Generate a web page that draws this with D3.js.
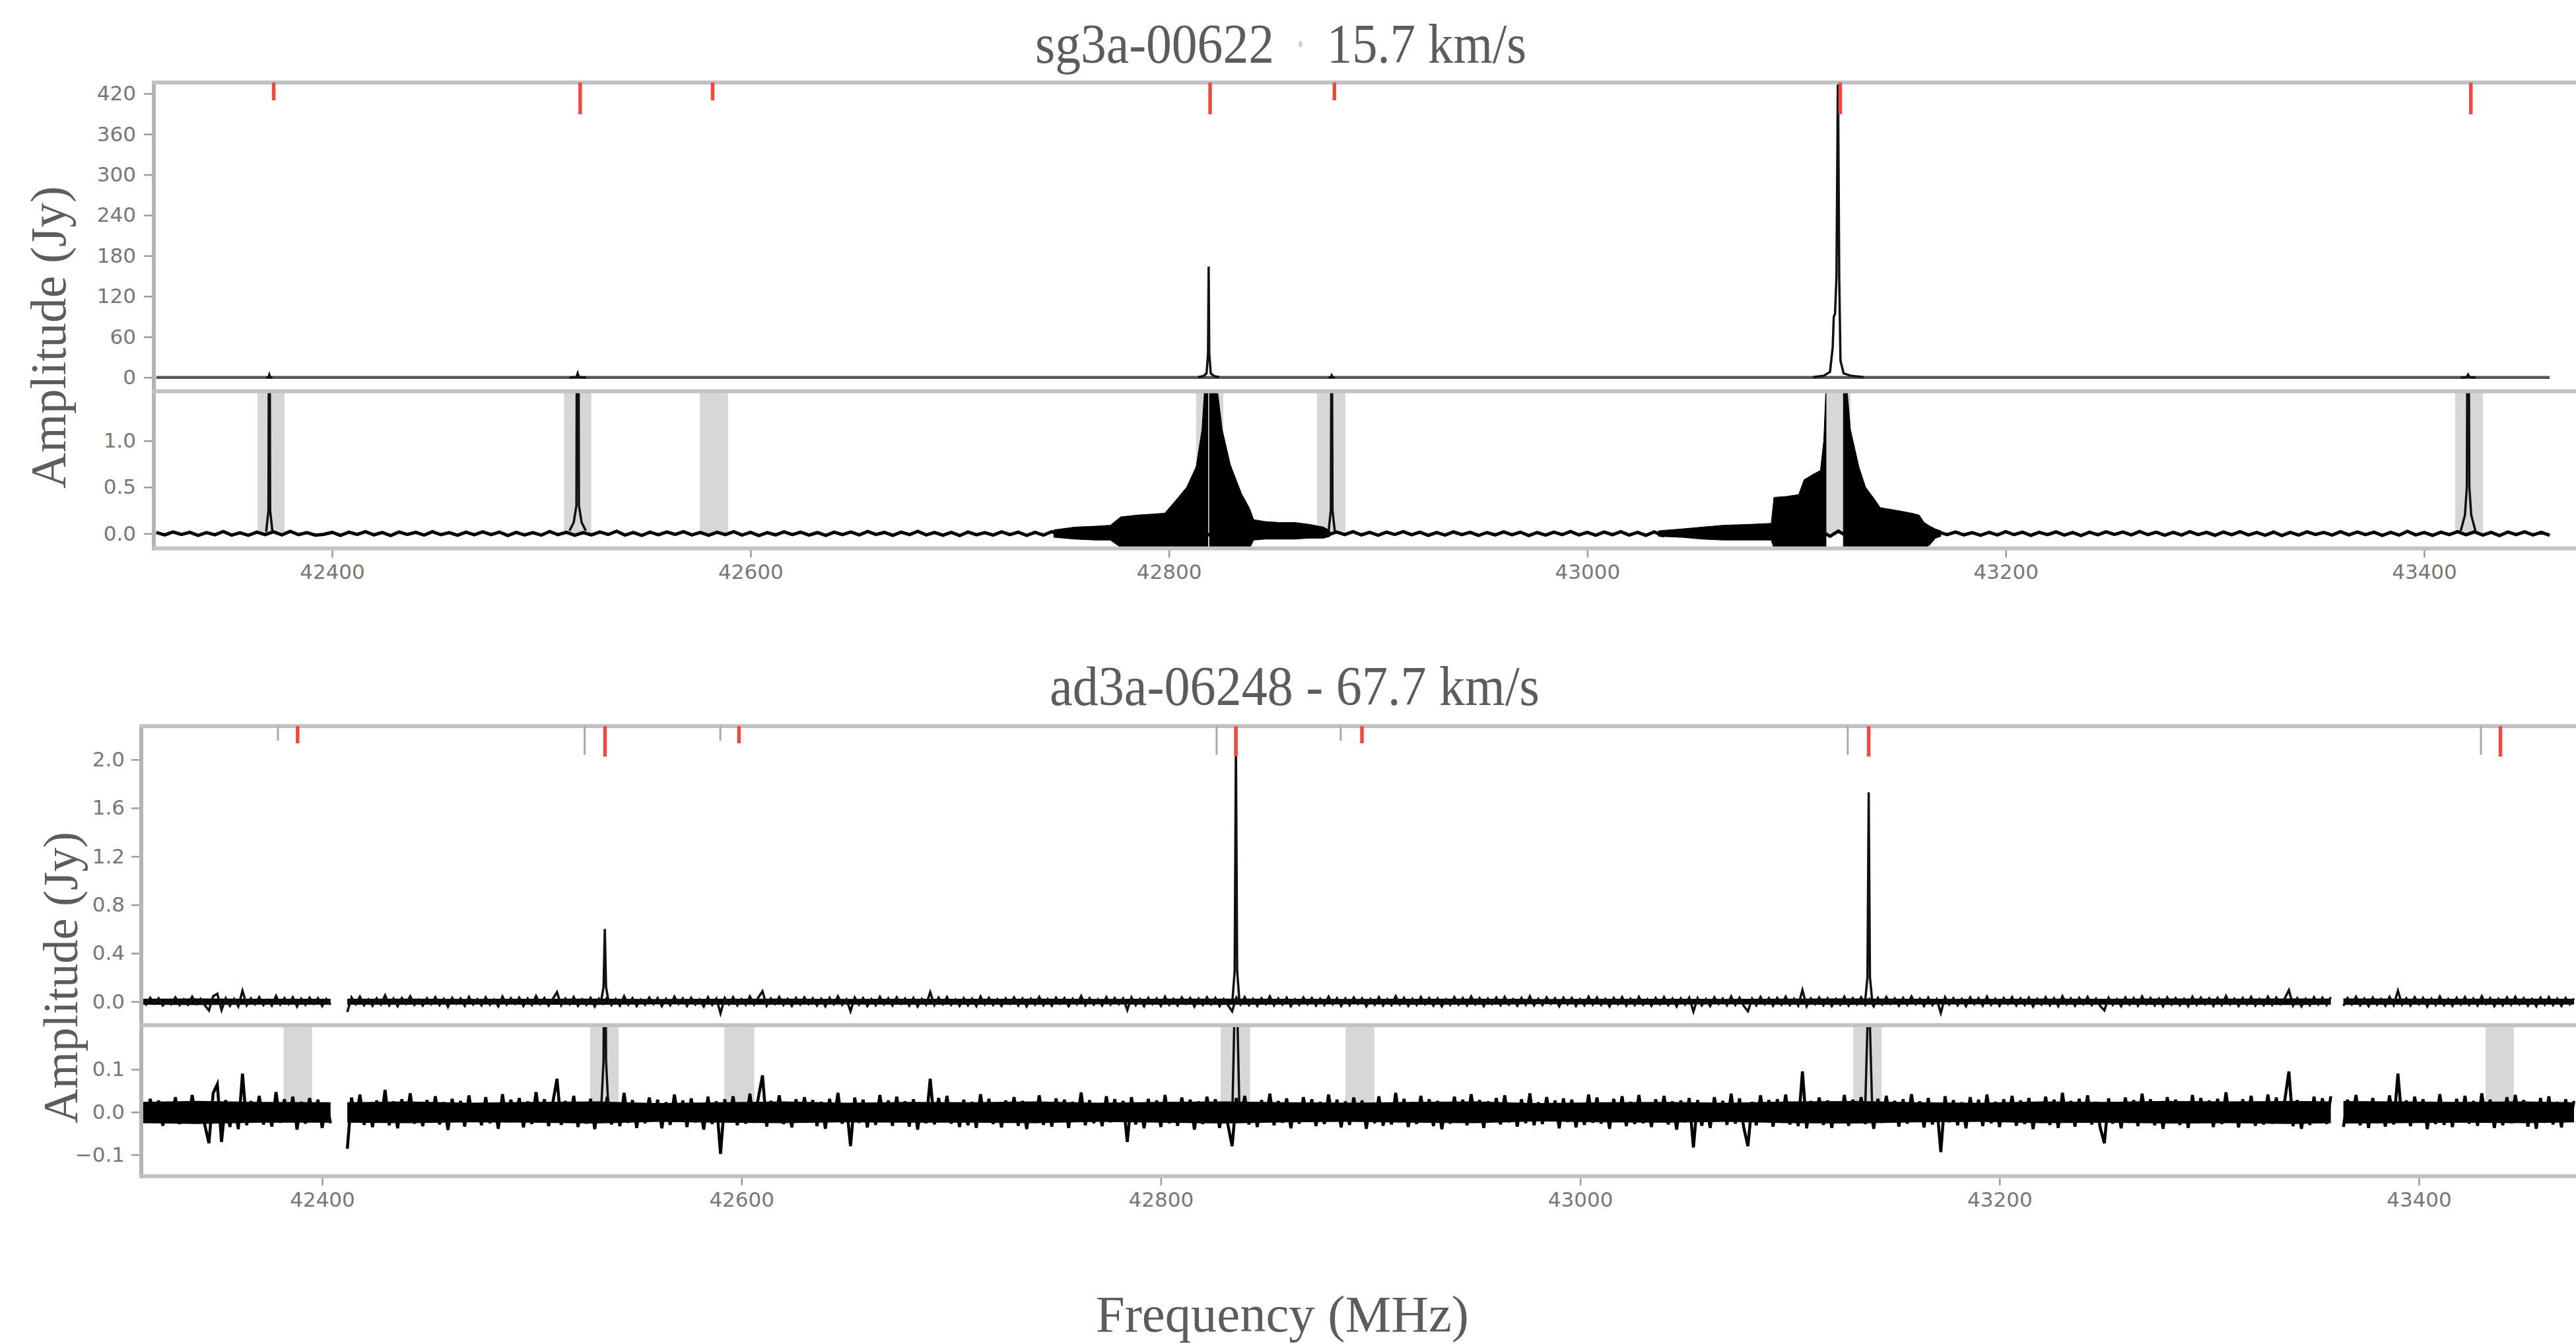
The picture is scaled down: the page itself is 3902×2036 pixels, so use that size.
<!DOCTYPE html>
<html>
<head>
<meta charset="utf-8">
<script src="https://cdn.jsdelivr.net/npm/d3@7"></script>
<style>
  html, body { margin: 0; padding: 0; background: #fff; }
  svg { display: block; }
  .tick text { font-family: "DejaVu Sans", sans-serif; font-size: 31px; fill: #777; }
  .tick line { stroke: #9a9a9a; stroke-width: 2.5; }
  .ttl { font-family: "Liberation Serif", "Times New Roman", serif; fill: #5c5c5c; }
</style>
</head>
<body>
<svg id="chart"></svg>
<script>
// ── Shared ticks ─────────────────────────────────────────────────────────────
const xTicks     = [42400, 42600, 42800, 43000, 43200, 43400];
const sgUpTicks  = [0, 60, 120, 180, 240, 300, 360, 420];
const sgLoTicks  = [0, 0.5, 1.0];
const adUpTicks  = [0, 0.4, 0.8, 1.2, 1.6, 2.0];
const adLoTicks  = [-0.1, 0, 0.1];
const mainLine   = [false, true, false, true, false, true, true];   // long markers

// ── sg3a-00622 (15.7 km/s) ───────────────────────────────────────────────────
// channel grid (MHz) and baseline amplitudes in mJy
const sgStart = 42316, sgStep = 4;
const sgNoise = [
  12,-15,18,-9,14,-20,11,-13,22,-16,9,-18,15,-11,19,-14,24,-12,10,-17,
  -8,13,-19,16,-10,21,-14,12,-22,17,-9,14,-16,20,-12,11,-18,15,-13,19,
  -11,16,-21,13,-15,10,-17,22,-12,14,-19,11,-14,18,-10,25,-16,12,-20,15,
  -13,17,-9,21,-15,12,-18,14,-11,20,-16,13,-22,10,-14,19,-12,16,-17,11,
  -20,15,-12,18,-14,22,-10,13,-19,16,-11,24,-15,12,-18,14,-21,17,-13,10,
  -16,19,-12,15,-20,13,-17,21,-14,11,-18,16,-22,14,-19,25,-21,18,-24,20,
  -23,17,-20,22,-18,16,-21,19,-17,23,-20,18,-22,15,-19,21,-16,14,-18,12,
  -15,17,-11,20,-14,13,-18,16,-10,21,-13,15,-19,12,-16,18,-12,14,-20,11,
  -14,19,-13,16,-21,12,-17,15,-11,22,-15,13,-18,17,-12,20,-16,14,-19,18,
  -22,20,-25,23,-27,24,-26,28,-30,25,-28,27,-30,29,-31,26,-28,30,-27,24,
  -29,26,-25,27,-24,22,-21,19,-18,20,-16,14,-19,15,-12,17,-14,11,-18,13,
  -15,20,-12,16,-19,14,-11,18,-16,12,-21,15,-13,19,-10,17,-14,22,-12,15,
  -18,13,-16,20,-11,14,-19,17,-13,21,-15,12,-18,16,-22,14,-17,19,-9,13,
  -16,21,-14,18,-12,15,-20,13,-17,24,-15,12,-19,16,-11,20,-13,18,-16,14,
  -21,17,-12,19,-15,13,-18
];
// broad ringing wings (Jy): upper / lower envelope, null = masked peak channel
const sgWing1F  = [42745, 42755, 42765, 42772, 42777, 42785, 42792, 42798, 42803, 42808.5, 42813, 42815.8, 42817, 42818.6, 42819, 42819.4, 42821, 42822.9, 42825.5, 42829.4, 42834.7, 42838.6, 42840.5, 42846, 42853, 42860, 42867, 42874, 42877];
const sgWing1Hi = [0.04, 0.07, 0.08, 0.09, 0.18, 0.2, 0.21, 0.22, 0.35, 0.5, 0.72, 1.12, 1.55, 1.7, null, 1.7, 1.7, 1.6, 1.12, 0.74, 0.43, 0.27, 0.15, 0.13, 0.12, 0.12, 0.1, 0.07, 0.03];
const sgWing1Lo = [-0.04, -0.06, -0.07, -0.07, -0.15, -0.16, -0.16, -0.16, -0.16, -0.16, -0.16, -0.16, -0.16, -0.16, null, -0.16, -0.16, -0.16, -0.16, -0.16, -0.16, -0.16, -0.07, -0.06, -0.06, -0.06, -0.05, -0.05, -0.03];
const sgWing2F  = [43034, 43045, 43055, 43065, 43078, 43087.9, 43089.2, 43095, 43101, 43103.6, 43108, 43111.4, 43113, 43114.1, 43118, 43122.4, 43124, 43125.8, 43129.8, 43133, 43137.6, 43140, 43148, 43155, 43158.6, 43161, 43163.8, 43166.4, 43169];
const sgWing2Hi = [0.03, 0.05, 0.07, 0.09, 0.1, 0.11, 0.39, 0.4, 0.42, 0.58, 0.64, 0.68, 1.0, 1.6, null, 1.6, 1.6, 1.12, 0.72, 0.5, 0.36, 0.28, 0.25, 0.22, 0.2, 0.12, 0.08, 0.05, 0.03];
const sgWing2Lo = [-0.03, -0.04, -0.06, -0.07, -0.07, -0.07, -0.16, -0.16, -0.16, -0.16, -0.16, -0.16, -0.16, -0.16, null, -0.16, -0.16, -0.16, -0.16, -0.16, -0.16, -0.16, -0.16, -0.16, -0.16, -0.16, -0.12, -0.05, -0.03];
// line profiles [MHz, Jy]
const sgPeaks = [
  [[42368.5, 0.02], [42369.6, 0.25], [42370, 4], [42370.4, 0.25], [42371.5, 0.02]],
  [[42513.5, 0.03], [42515.5, 0.12], [42516.8, 0.3], [42517.4, 6], [42518, 0.3], [42519.3, 0.12], [42521.3, 0.03]],
  [[42814, 0.5], [42816.5, 2], [42818, 6], [42818.7, 35], [42819, 164], [42819.3, 35], [42820, 6], [42821.5, 2], [42824, 0.5]],
  [[42876.3, 0.02], [42877.4, 0.25], [42877.8, 3], [42878.2, 0.25], [42879.3, 0.02]],
  [[43108, 0.5], [43113, 2.5], [43116, 8], [43117.3, 45], [43117.8, 90], [43118.4, 94], [43119.1, 150], [43119.8, 460], [43120.4, 150], [43121, 25], [43122.5, 6], [43126, 2.5], [43132, 0.5]],
  [[43417.5, 0.03], [43419.5, 0.2], [43420.4, 0.5], [43421, 4], [43421.6, 0.5], [43422.5, 0.2], [43424.5, 0.03]]
];
const sgPeakInLower = [true, true, false, true, false, true];
const sgBands = [[42364.3, 42377.3], [42510.8, 42523.9], [42575.8, 42589.3], [42813, 42826],
                 [42870.8, 42884.4], [43114.1, 43125.8], [43414.8, 43428.1]];
const sgLineF = [42372.1, 42518.6, 42581.9, 42819.7, 42879.1, 43120.9, 43422.3];

// ── ad3a-06248 (67.7 km/s) ───────────────────────────────────────────────────
// null = flagged channel
const adStart = 42314, adStep = 2;
const adNoise = [
  18,-24,31,-15,27,-32,12,-21,35,-28,19,-26,40,-19,23,-30,-73,44,65,-70,
  28,-35,22,-40,90,-31,26,-22,38,-29,15,-34,47,-25,30,-20,36,-41,24,-27,
  33,-18,29,-37,21,-26,null,null,null,-86,34,-22,41,-30,19,-35,27,-24,52,-31,
  25,-38,30,-19,44,-27,16,-33,28,-21,37,-29,23,-42,31,-17,26,-34,39,-23,
  20,-31,35,-26,18,-39,42,-24,29,-18,33,-36,25,-28,47,-21,30,-33,22,78,
  -30,26,-22,38,-35,19,-27,31,-40,24,-18,36,-29,21,-33,45,-25,28,-37,17,
  -26,34,-21,29,-38,23,-30,41,-19,27,-35,32,-24,18,-41,36,-28,25,-98,30,
  -22,37,-31,20,-27,43,-25,33,86,-34,26,-19,39,-28,22,-36,30,-24,35,-20,
  28,-33,24,-39,31,-22,45,-27,19,-80,34,-25,29,-36,21,-30,40,-23,27,-32,
  36,-19,25,-34,30,-41,22,-26,78,-29,33,-21,38,-27,18,-35,29,-31,24,-37,
  42,-23,31,-28,20,-36,27,-19,35,-32,26,-40,23,-25,39,-30,21,-34,32,-18,
  29,-37,24,-22,46,-31,28,-26,19,-33,37,-24,30,-21,26,-70,35,-29,22,-38,
  31,-20,27,-35,40,-26,23,-32,34,-19,29,-41,25,-28,36,-23,30,-37,21,-30,
  -80,33,-24,38,-29,22,-35,28,-20,43,-31,26,-25,32,-38,19,-27,35,-22,30,
  -33,24,-28,41,-21,29,-36,25,-30,34,-19,27,-39,22,-26,37,-32,20,-29,45,
  -24,31,-35,23,-28,38,-21,30,-33,26,-40,19,-27,36,-25,29,-31,42,-22,28,
  -37,25,-20,33,-29,39,-24,21,-34,30,-26,44,-31,23,-28,35,-19,27,-38,32,
  -23,29,-36,20,-30,41,-25,34,-27,22,-39,31,-21,37,-33,24,-28,40,-26,19,
  -35,30,-22,38,-29,25,-41,27,-24,33,-83,28,-32,21,-37,35,-20,26,-30,43,
  -27,32,-36,-80,24,-31,39,-22,28,-34,30,-25,41,-29,23,-33,95,-38,26,-21,
  34,-30,27,-37,22,-26,40,-32,29,-23,35,-28,21,-39,31,-25,38,-20,26,-34,
  30,-27,42,-22,25,-36,33,-29,20,-94,37,-24,28,-31,23,-38,35,-21,29,-33,
  41,-26,24,-35,30,-20,38,-32,27,-28,33,-40,22,-25,36,-30,29,-37,45,-23,
  26,-34,31,-21,39,-29,24,-36,-73,32,-27,20,-38,34,-25,28,-33,43,-22,30,
  -31,25,-39,35,-24,29,-30,22,-37,40,-26,33,-21,27,-35,31,-28,46,-23,24,
  -36,30,-25,38,-32,21,-29,41,-27,34,-20,26,95,-33,28,-39,23,-30,36,-24,
  32,-28,37,null,null,-35,29,-22,40,-31,25,-37,33,-26,21,-34,39,-29,90,-25,
  27,-33,36,-21,30,-40,24,-28,42,-30,22,-35,31,-24,38,-27,26,-32,44,-20,
  29,-37,23,-31,35,-26,40,-23,28,-34,21,-39,33,-25,37,-29,24,-36,30,-22,
  26
];
// dense noise core (Jy): envelope where the trace fills solid black
const adCoreF  = [42314, 42340, 42370, 42404, 42408, 42412, 42440, 42470, 42500, 42530, 42560, 42590, 42620, 42650, 42680, 42710, 42740, 42770, 42800, 42830, 42860, 42890, 42920, 42950, 42980, 43010, 43040, 43070, 43100, 43130, 43160, 43190, 43220, 43250, 43280, 43310, 43340, 43358, 43361, 43364, 43390, 43420, 43450, 43474];
const adCoreHi = [0.024, 0.026, 0.024, 0.023, null, 0.023, 0.025, 0.022, 0.024, 0.025, 0.021, 0.023, 0.025, 0.022, 0.024, 0.023, 0.025, 0.022, 0.024, 0.025, 0.023, 0.022, 0.024, 0.025, 0.021, 0.023, 0.024, 0.022, 0.025, 0.026, 0.023, 0.022, 0.025, 0.024, 0.026, 0.025, 0.026, 0.025, null, 0.026, 0.025, 0.024, 0.025, 0.023];
const adCoreLo = [-0.026, -0.028, -0.025, -0.025, null, -0.025, -0.026, -0.024, -0.025, -0.027, -0.023, -0.025, -0.026, -0.024, -0.025, -0.025, -0.026, -0.023, -0.025, -0.027, -0.024, -0.023, -0.025, -0.026, -0.022, -0.024, -0.025, -0.023, -0.026, -0.027, -0.024, -0.023, -0.026, -0.025, -0.027, -0.026, -0.028, -0.026, null, -0.027, -0.026, -0.025, -0.026, -0.024];
const adPeaks = [
  [[42533.2, 0.02], [42534.2, 0.12], [42534.8, 0.6], [42535.4, 0.12], [42536.4, 0.02]],
  [[42834.2, 0.02], [42835.2, 0.25], [42835.8, 2.15], [42836.4, 0.25], [42837.4, 0.02]],
  [[43136.0, 0.02], [43137.0, 0.2], [43137.6, 1.73], [43138.2, 0.2], [43139.2, 0.02]]
];
const adPeakInLower = [true, true, true];
const adBands = [[42381.6, 42395.2], [42527.8, 42541.4], [42591.8, 42606.1], [42828.5, 42842.6],
                 [42888.0, 42901.9], [43130.2, 43143.8], [43431.8, 43445.3]];
const adLineF = [42388.3, 42534.9, 42598.8, 42835.8, 42895.9, 43137.6, 43438.9];
const adRestF = [42378.9, 42525.2, 42589.9, 42826.6, 42885.8, 43127.6, 43429.6];

// ── Build series ─────────────────────────────────────────────────────────────
const toSpec = (start, step, arr) => arr.map((v, i) => [start + i * step, v == null ? null : v / 1000]);
const toWing = (F, Hi, Lo) => F.map((f, i) => ({ f, hi: Hi[i], lo: Lo[i] }));

const FIGS = [
  {
    id: 'sg',
    // title pieces: [text, x, length, faint]
    title: [['sg3a-00622', 1568, 362, false], ['·', 1962, 16, true], ['15.7 km/s', 2010, 302, false]],
    spec: toSpec(sgStart, sgStep, sgNoise),
    core: null,
    wings: [toWing(sgWing1F, sgWing1Hi, sgWing1Lo), toWing(sgWing2F, sgWing2Hi, sgWing2Lo)],
    peaks: sgPeaks, peakInLower: sgPeakInLower, bands: sgBands,
    lineF: sgLineF, restF: null,
    upTicks: sgUpTicks, upFmt: d3.format('d'), loTicks: sgLoTicks, loFmt: d3.format('.1f'),
    // layout
    left: 233, xRange: [503, 3672],
    up: { top: 125, bot: 582, rng: [571.7, 141.7], dom: [0, 420] },
    lo: { top: 592.7, bot: 830.7, rng: [808.3, 667.7], dom: [0, 1] },
    tickPad: 12, titleY: 95,
    ylab: { x: 99, y: 511, len: 458, size: 76 },
    redLen: [48, 27], grayLen: null,
    upStroke: ['#555', 4.5], loStroke: ['#000', 5]
  },
  {
    id: 'ad',
    title: [['ad3a-06248 - 67.7 km/s', 1590, 742, false]],
    spec: toSpec(adStart, adStep, adNoise),
    core: toWing(adCoreF, adCoreHi, adCoreLo),
    wings: [],
    peaks: adPeaks, peakInLower: adPeakInLower, bands: adBands,
    lineF: adLineF, restF: adRestF,
    upTicks: adUpTicks, upFmt: d3.format('.1f'), loTicks: adLoTicks, loFmt: d3.format('.1f'),
    left: 214, xRange: [488, 3664],
    up: { top: 1100, bot: 1545, rng: [1517.3, 1150.7], dom: [0, 2] },
    lo: { top: 1553, bot: 1781.7, rng: [1749.3, 1620], dom: [-0.1, 0.1] },
    tickPad: 10, titleY: 1068,
    ylab: { x: 117, y: 1481, len: 442, size: 73 },
    redLen: [46, 26], grayLen: [43.6, 22],
    upStroke: ['#111', 3.5], loStroke: ['#000', 4.5]
  }
];

// ── Draw ─────────────────────────────────────────────────────────────────────
const W = 3902, H = 2036;
const svg = d3.select('#chart').attr('width', W).attr('height', H);
svg.append('rect').attr('width', W).attr('height', H).attr('fill', '#fff');

function drawFigure(D) {
  const x = d3.scaleLinear().domain([42400, 43400]).range(D.xRange);

  [['up', D.up, D.upTicks, D.upFmt], ['lo', D.lo, D.loTicks, D.loFmt]].forEach(([key, P, ticks, fmt]) => {
    const y = d3.scaleLinear().domain(P.dom).range(P.rng);
    const clipId = `clip-${D.id}-${key}`;
    svg.append('clipPath').attr('id', clipId).append('rect')
      .attr('x', D.left).attr('y', P.top)
      .attr('width', W - D.left + 10).attr('height', P.bot - P.top);

    const pg = svg.append('g').attr('clip-path', `url(#${clipId})`);

    const line = d3.line()
      .defined(d => d[1] != null)
      .x(d => x(d[0]))
      .y(d => y(d[1]));
    const area = d3.area()
      .defined(d => d.hi != null)
      .x(d => x(d.f))
      .y0(d => y(d.lo))
      .y1(d => y(d.hi));

    // shaded line windows (lower panel only, from zero upward)
    if (key === 'lo') {
      pg.selectAll('rect.band').data(D.bands).join('rect')
        .attr('class', 'band')
        .attr('x', d => x(d[0]))
        .attr('width', d => x(d[1]) - x(d[0]))
        .attr('y', P.top)
        .attr('height', y(0) - P.top)
        .attr('fill', '#d7d7d7');
    }

    // dense noise core
    if (D.core) {
      pg.append('path').datum(D.core)
        .attr('d', area)
        .attr('fill', '#000');
    }

    // baseline spectrum
    const st = key === 'up' ? D.upStroke : D.loStroke;
    pg.append('path').datum(D.spec)
      .attr('d', line)
      .attr('fill', 'none')
      .attr('stroke', st[0])
      .attr('stroke-width', st[1]);

    // broad wings (filled envelope)
    if (key === 'lo') {
      pg.selectAll('path.wing').data(D.wings).join('path')
        .attr('class', 'wing')
        .attr('d', area)
        .attr('fill', '#000')
        .attr('stroke', '#000')
        .attr('stroke-width', 1);
    }

    // narrow lines
    pg.selectAll('path.peak')
      .data(D.peaks.filter((p, i) => key === 'up' || D.peakInLower[i]))
      .join('path')
      .attr('class', 'peak')
      .attr('d', line)
      .attr('fill', 'none')
      .attr('stroke', '#111')
      .attr('stroke-width', 3.5);

    // y axis
    const ax = svg.append('g')
      .attr('transform', `translate(${D.left - 3},0)`)
      .call(d3.axisLeft(y).tickValues(ticks).tickFormat(fmt).tickSize(12).tickPadding(D.tickPad));
    ax.select('.domain').remove();
  });

  // spines
  const sp = svg.append('g').attr('stroke', '#c2c2c2').attr('stroke-width', 6).attr('fill', 'none');
  sp.append('line')
    .attr('x1', D.left).attr('x2', D.left)
    .attr('y1', D.up.top - 3).attr('y2', D.lo.bot + 3)
    .attr('stroke', '#b4b4b4');
  [D.up.top, D.lo.top, D.lo.bot].forEach(yy => {
    sp.append('line').attr('x1', D.left - 3).attr('x2', W + 10).attr('y1', yy).attr('y2', yy);
  });

  // line markers at the top of the upper panel
  const mk = svg.append('g');
  if (D.restF) {
    mk.selectAll('line.rest').data(D.restF).join('line')
      .attr('class', 'rest')
      .attr('x1', d => x(d)).attr('x2', d => x(d))
      .attr('y1', D.up.top)
      .attr('y2', (d, i) => D.up.top + (mainLine[i] ? D.grayLen[0] : D.grayLen[1]))
      .attr('stroke', '#a9a9a9').attr('stroke-width', 3);
  }
  mk.selectAll('line.obs').data(D.lineF).join('line')
    .attr('class', 'obs')
    .attr('x1', d => x(d)).attr('x2', d => x(d))
    .attr('y1', D.up.top)
    .attr('y2', (d, i) => D.up.top + (mainLine[i] ? D.redLen[0] : D.redLen[1]))
    .attr('stroke', '#ee4a44').attr('stroke-width', 5.5);

  // x axis
  const xa = svg.append('g')
    .attr('transform', `translate(0,${D.lo.bot + 3})`)
    .call(d3.axisBottom(x).tickValues(xTicks).tickFormat(d3.format('d')).tickSize(11).tickPadding(10));
  xa.select('.domain').remove();

  // title (separate pieces so the faint separator keeps its own spot)
  D.title.forEach(([s, tx, len, faint]) => {
    svg.append('text')
      .attr('class', 'ttl')
      .attr('x', tx).attr('y', D.titleY)
      .attr('font-size', 84)
      .attr('textLength', len)
      .attr('lengthAdjust', 'spacingAndGlyphs')
      .style('fill', faint ? '#cfcfcf' : null)
      .text(s);
  });

  // y label
  svg.append('text')
    .attr('class', 'ttl')
    .attr('transform', `translate(${D.ylab.x},${D.ylab.y}) rotate(-90)`)
    .attr('text-anchor', 'middle')
    .attr('font-size', D.ylab.size)
    .attr('textLength', D.ylab.len)
    .attr('lengthAdjust', 'spacingAndGlyphs')
    .text('Amplitude (Jy)');
}

FIGS.forEach(drawFigure);

// shared x label
svg.append('text')
  .attr('class', 'ttl')
  .attr('x', 1660).attr('y', 2017)
  .attr('font-size', 78)
  .attr('textLength', 565)
  .attr('lengthAdjust', 'spacingAndGlyphs')
  .text('Frequency (MHz)');
</script>
</body>
</html>
